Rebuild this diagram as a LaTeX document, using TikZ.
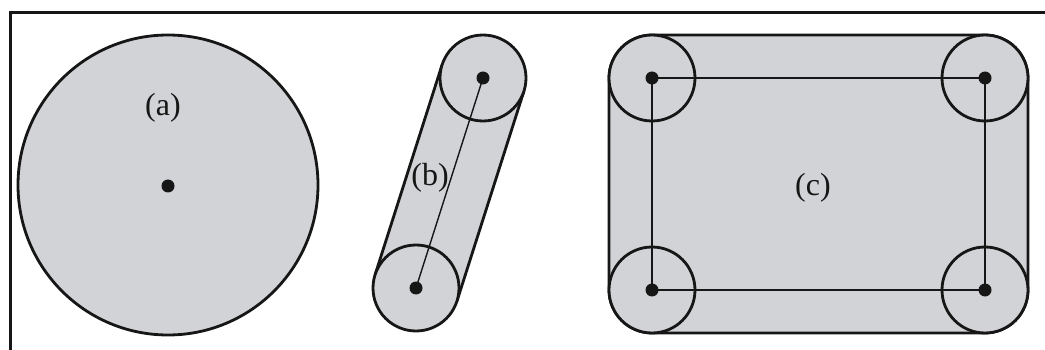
\documentclass[tikz,border=0pt]{standalone}
\usepackage{fontspec}
\setmainfont{Liberation Serif}
\usetikzlibrary{calc}
\definecolor{fillgray}{RGB}{209,211,214}
\definecolor{ink}{RGB}{22,22,22}
\begin{document}
\begin{tikzpicture}[x=1pt,y=-1pt,
  wheel/.style={circle,draw=ink,line width=2.8pt,fill=fillgray,minimum size=86pt,inner sep=0pt},
  hub/.style={circle,fill=ink,minimum size=13pt,inner sep=0pt},
  link/.style={draw=ink,line width=1.4pt},
  hullline/.style={draw=ink,line width=2.8pt},
  lab/.style={font=\fontsize{32}{38}\selectfont,text=ink,inner sep=0pt}]
\useasboundingbox (0,0) rectangle (1045,350);
% frame
\draw[ink,line width=3pt] (10,350) -- (10,13) -- (1045,13);

% (a)
\node[circle,draw=ink,line width=2.8pt,fill=fillgray,minimum size=300pt,inner sep=0pt] (disk) at (168,185) {};
\node[hub] (ha) at (168,186) {};
\node[lab] (la) at (163,108) {(a)};

% (b)
\coordinate (b1) at (416,288);
\coordinate (b2) at (483,78);
\coordinate (t1) at ($(b1)!43pt!90:(b2)$);
\coordinate (t2) at ($(b2)!43pt!-90:(b1)$);
\coordinate (t3) at ($(b2)!43pt!90:(b1)$);
\coordinate (t4) at ($(b1)!43pt!-90:(b2)$);
\fill[fillgray] (t1) -- (t2) -- (t3) -- (t4) -- cycle;
\draw[hullline] (t1) -- (t2);
\draw[hullline] (t3) -- (t4);
\node[wheel] (wb1) at (b1) {};
\node[wheel] (wb2) at (b2) {};
\node[hub] (hb1) at (b1) {};
\node[hub] (hb2) at (b2) {};
\draw[link] (hb1.center) -- (hb2.center);
\node[lab] (lb) at (430,178) {(b)};

% (c)
\coordinate (c1) at (652,78);
\coordinate (c2) at (985,78);
\coordinate (c3) at (652,290);
\coordinate (c4) at (985,290);
\draw[hullline,fill=fillgray,rounded corners=43pt] ($(c1)+(-43,-43)$) rectangle ($(c4)+(43,43)$);
\node[wheel] (wc1) at (c1) {};
\node[wheel] (wc2) at (c2) {};
\node[wheel] (wc3) at (c3) {};
\node[wheel] (wc4) at (c4) {};
\node[hub] (hc1) at (c1) {};
\node[hub] (hc2) at (c2) {};
\node[hub] (hc3) at (c3) {};
\node[hub] (hc4) at (c4) {};
\draw[link] (hc1.center) -- (hc2.center) -- (hc4.center) -- (hc3.center) -- cycle;
\node[lab] (lc) at (813,188) {(c)};
\end{tikzpicture}
\end{document}
